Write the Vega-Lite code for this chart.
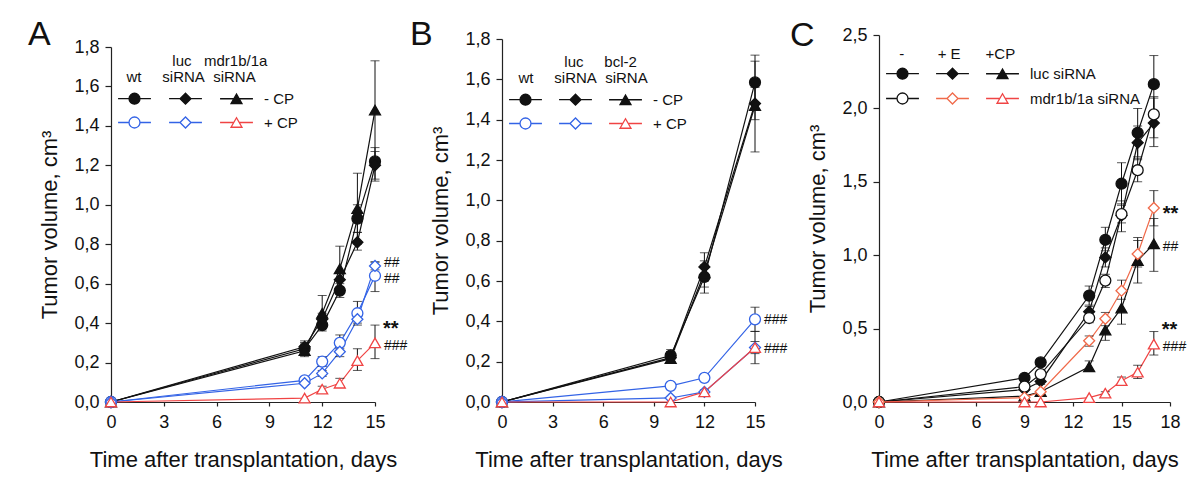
{
"$schema":"https://vega.github.io/schema/vega-lite/v6.json",
"background":"white",
"padding":{"left":28,"top":18,"right":5,"bottom":5},
"spacing":2,
"config":{
 "font":"Liberation Sans",
 "view":{"stroke":null},
 "locale":{"number":{"decimal":",","thousands":".","grouping":[3],"currency":["","\u00a0€"]}},
 "axis":{"grid":false,"domainColor":"#222","domainWidth":1.2,"tickColor":"#222","tickWidth":1.2,"labelColor":"#111","titleColor":"#111","labelFontSize":18,"titleFontSize":22,"titleFontWeight":"normal","labelFlush":false},
 "axisY":{"tickSize":6,"labelPadding":6,"titlePadding":12},
 "axisX":{"tickSize":4,"labelPadding":7,"titlePadding":18},
 "title":{"fontSize":34,"fontWeight":"normal","anchor":"start","frame":"group","baseline":"alphabetic","color":"#111","dy":11},
 "legend":{"orient":"top-left","offset":8,"columns":3,"symbolOffset":8,"symbolSize":120,"symbolStrokeWidth":1.3,"labelFontSize":15,"titleFontSize":15,"titleFontWeight":"normal","titleLineHeight":16,"titlePadding":6,"rowPadding":7,"columnPadding":3,"labelOffset":20,"padding":0,"labelColor":"#111","titleColor":"#111"}
},
"datasets":{
"A":[
{"series":"wt-","day":0,"volume":0},{"series":"wt-","day":11,"volume":0.27,"lo":0.24,"hi":0.30},{"series":"wt-","day":12,"volume":0.39,"lo":0.36,"hi":0.42},{"series":"wt-","day":13,"volume":0.565,"lo":0.53,"hi":0.60},{"series":"wt-","day":14,"volume":0.93,"lo":0.86,"hi":1.00},{"series":"wt-","day":15,"volume":1.22,"lo":1.13,"hi":1.29},
{"series":"luc-","day":0,"volume":0},{"series":"luc-","day":11,"volume":0.28,"lo":0.25,"hi":0.31},{"series":"luc-","day":12,"volume":0.42,"lo":0.39,"hi":0.45},{"series":"luc-","day":13,"volume":0.62,"lo":0.58,"hi":0.66},{"series":"luc-","day":14,"volume":0.81,"lo":0.77,"hi":0.86},{"series":"luc-","day":15,"volume":1.20,"lo":1.12,"hi":1.27},
{"series":"mdr-","day":0,"volume":0},{"series":"mdr-","day":11,"volume":0.26,"lo":0.23,"hi":0.30},{"series":"mdr-","day":12,"volume":0.45,"lo":0.38,"hi":0.54},{"series":"mdr-","day":13,"volume":0.675,"lo":0.56,"hi":0.79},{"series":"mdr-","day":14,"volume":0.98,"lo":0.80,"hi":1.16},{"series":"mdr-","day":15,"volume":1.48,"lo":1.23,"hi":1.73},
{"series":"wt+","day":0,"volume":0},{"series":"wt+","day":11,"volume":0.11,"lo":0.10,"hi":0.12},{"series":"wt+","day":12,"volume":0.205,"lo":0.18,"hi":0.23},{"series":"wt+","day":13,"volume":0.30,"lo":0.27,"hi":0.34},{"series":"wt+","day":14,"volume":0.45,"lo":0.40,"hi":0.51},{"series":"wt+","day":15,"volume":0.64,"lo":0.56,"hi":0.71,"hash":"##"},
{"series":"luc+","day":0,"volume":0},{"series":"luc+","day":11,"volume":0.095},{"series":"luc+","day":12,"volume":0.145,"lo":0.13,"hi":0.16},{"series":"luc+","day":13,"volume":0.255,"lo":0.23,"hi":0.28},{"series":"luc+","day":14,"volume":0.42,"lo":0.39,"hi":0.45},{"series":"luc+","day":15,"volume":0.69,"lo":0.67,"hi":0.71,"hashHi":"##"},
{"series":"mdr+","day":0,"volume":0},{"series":"mdr+","day":11,"volume":0.02},{"series":"mdr+","day":12,"volume":0.065,"lo":0.05,"hi":0.08},{"series":"mdr+","day":13,"volume":0.095,"lo":0.08,"hi":0.12},{"series":"mdr+","day":14,"volume":0.21,"lo":0.16,"hi":0.27},{"series":"mdr+","day":15,"volume":0.30,"lo":0.22,"hi":0.39,"hash":"###","starUp":"**"}
],
"B":[
{"series":"wt-","day":0,"volume":0},{"series":"wt-","day":10,"volume":0.23,"lo":0.21,"hi":0.26},{"series":"wt-","day":12,"volume":0.62,"lo":0.57,"hi":0.68},{"series":"wt-","day":15,"volume":1.585,"lo":1.45,"hi":1.72},
{"series":"luc-","day":0,"volume":0},{"series":"luc-","day":10,"volume":0.22,"lo":0.20,"hi":0.25},{"series":"luc-","day":12,"volume":0.67,"lo":0.60,"hi":0.74},{"series":"luc-","day":15,"volume":1.48,"lo":1.40,"hi":1.56},
{"series":"bcl-","day":0,"volume":0},{"series":"bcl-","day":10,"volume":0.215,"lo":0.20,"hi":0.24},{"series":"bcl-","day":12,"volume":0.64,"lo":0.54,"hi":0.70},{"series":"bcl-","day":15,"volume":1.47,"lo":1.24,"hi":1.69},
{"series":"wt+","day":0,"volume":0},{"series":"wt+","day":10,"volume":0.08,"lo":0.07,"hi":0.09},{"series":"wt+","day":12,"volume":0.12,"lo":0.11,"hi":0.13},{"series":"wt+","day":15,"volume":0.41,"lo":0.35,"hi":0.47,"hash":"###"},
{"series":"luc+","day":0,"volume":0},{"series":"luc+","day":10,"volume":0.02},{"series":"luc+","day":12,"volume":0.05},{"series":"luc+","day":15,"volume":0.27,"lo":0.24,"hi":0.30},
{"series":"bcl+","day":0,"volume":0},{"series":"bcl+","day":10,"volume":0.0},{"series":"bcl+","day":12,"volume":0.05,"lo":0.04,"hi":0.06},{"series":"bcl+","day":15,"volume":0.27,"lo":0.19,"hi":0.35,"hash":"###"}
],
"C":[
{"series":"luc0","day":0,"volume":0},{"series":"luc0","day":9,"volume":0.165,"lo":0.15,"hi":0.18},{"series":"luc0","day":10,"volume":0.27,"lo":0.25,"hi":0.29},{"series":"luc0","day":13,"volume":0.725,"lo":0.66,"hi":0.79},{"series":"luc0","day":14,"volume":1.105,"lo":1.03,"hi":1.19},{"series":"luc0","day":15,"volume":1.487,"lo":1.35,"hi":1.63},{"series":"luc0","day":16,"volume":1.834,"lo":1.67,"hi":2.00},{"series":"luc0","day":17,"volume":2.165,"lo":1.97,"hi":2.36},
{"series":"lucE","day":0,"volume":0},{"series":"lucE","day":9,"volume":0.085},{"series":"lucE","day":10,"volume":0.14,"lo":0.12,"hi":0.16},{"series":"lucE","day":13,"volume":0.615,"lo":0.58,"hi":0.65},{"series":"lucE","day":14,"volume":0.985,"lo":0.92,"hi":1.05},{"series":"lucE","day":15,"volume":1.27,"lo":1.16,"hi":1.37},{"series":"lucE","day":16,"volume":1.766,"lo":1.65,"hi":1.88},{"series":"lucE","day":17,"volume":1.90,"lo":1.74,"hi":2.07},
{"series":"lucCP","day":0,"volume":0},{"series":"lucCP","day":9,"volume":0.04},{"series":"lucCP","day":10,"volume":0.07},{"series":"lucCP","day":13,"volume":0.24,"lo":0.21,"hi":0.28},{"series":"lucCP","day":14,"volume":0.49,"lo":0.42,"hi":0.56},{"series":"lucCP","day":15,"volume":0.64,"lo":0.53,"hi":0.75},{"series":"lucCP","day":16,"volume":0.963,"lo":0.81,"hi":1.12},{"series":"lucCP","day":17,"volume":1.077,"lo":0.89,"hi":1.25,"hash":"##"},
{"series":"mdr0","day":0,"volume":0},{"series":"mdr0","day":9,"volume":0.105},{"series":"mdr0","day":10,"volume":0.19,"lo":0.17,"hi":0.21},{"series":"mdr0","day":13,"volume":0.572,"lo":0.54,"hi":0.61},{"series":"mdr0","day":14,"volume":0.827,"lo":0.78,"hi":0.87},{"series":"mdr0","day":15,"volume":1.28,"lo":1.22,"hi":1.34},{"series":"mdr0","day":16,"volume":1.579,"lo":1.50,"hi":1.66},{"series":"mdr0","day":17,"volume":1.959,"lo":1.80,"hi":2.08},
{"series":"mdrE","day":0,"volume":0},{"series":"mdrE","day":9,"volume":0.03},{"series":"mdrE","day":10,"volume":0.07},{"series":"mdrE","day":13,"volume":0.417,"lo":0.38,"hi":0.45},{"series":"mdrE","day":14,"volume":0.567,"lo":0.52,"hi":0.61},{"series":"mdrE","day":15,"volume":0.758,"lo":0.70,"hi":0.83},{"series":"mdrE","day":16,"volume":1.008,"lo":0.92,"hi":1.10},{"series":"mdrE","day":17,"volume":1.322,"lo":1.20,"hi":1.44,"star":"**"},
{"series":"mdrCP","day":0,"volume":0},{"series":"mdrCP","day":9,"volume":0},{"series":"mdrCP","day":10,"volume":0},{"series":"mdrCP","day":13,"volume":0.03},{"series":"mdrCP","day":14,"volume":0.06,"lo":0.05,"hi":0.07},{"series":"mdrCP","day":15,"volume":0.145,"lo":0.12,"hi":0.17},{"series":"mdrCP","day":16,"volume":0.203,"lo":0.16,"hi":0.25},{"series":"mdrCP","day":17,"volume":0.394,"lo":0.32,"hi":0.48,"hash":"###","starUp":"**"}
]
},
"hconcat":[
{
 "width":264,"height":367,
 "title":{"text":"A","dx":-83,"offset":-6},
 "data":{"name":"A"},
 "encoding":{
  "x":{"field":"day","type":"quantitative","scale":{"domain":[0,15],"nice":false},"axis":{"values":[0,3,6,9,12,15],"title":"Time after transplantation, days"}},
  "y":{"field":"volume","type":"quantitative","scale":{"domain":[0,1.8],"nice":false,"range":[367,12]},"axis":{"values":[0,0.2,0.4,0.6,0.8,1,1.2,1.4,1.6,1.8],"format":".1f","title":"Tumor volume, cm³"}}
 },
 "layer":[
  {"mark":{"type":"line","strokeWidth":1.2},"encoding":{"stroke":{"field":"series","type":"nominal","scale":{"domain":["wt-","luc-","mdr-","wt+","luc+","mdr+"],"range":["#111","#111","#111","#3363e6","#3363e6","#f04444"]},"legend":null}}},
  {"mark":{"type":"errorbar","ticks":{"size":9},"color":"#111","thickness":1},"encoding":{"y":{"field":"lo","type":"quantitative","axis":{"values":[0,0.2,0.4,0.6,0.8,1,1.2,1.4,1.6,1.8],"format":".1f","title":"Tumor volume, cm³"}},"y2":{"field":"hi"}}},
  {"mark":{"type":"point","filled":true,"size":120,"strokeWidth":1.3,"opacity":1},"encoding":{
    "shape":{"field":"series","type":"nominal","scale":{"domain":["wt-","luc-","mdr-","wt+","luc+","mdr+"],"range":["circle","diamond","triangle-up","circle","diamond","triangle-up"]},"legend":null},
    "fill":{"field":"series","type":"nominal","scale":{"domain":["wt-","luc-","mdr-","wt+","luc+","mdr+"],"range":["#111","#111","#111","white","white","white"]},"legend":null},
    "stroke":{"field":"series","type":"nominal","scale":{"domain":["wt-","luc-","mdr-","wt+","luc+","mdr+"],"range":["#111","#111","#111","#3363e6","#3363e6","#f04444"]},"legend":null}}},
  {"transform":[{"filter":"false"}],"mark":{"type":"point","filled":true,"size":120,"strokeWidth":1.3,"opacity":1},"encoding":{
    "shape":{"field":"series","type":"nominal","scale":{"domain":["wt-","wt+","luc-","luc+","mdr-","mdr+"],"range":["M-3,0H-1M1,0H3M1,0A1,1,0,1,1,-1,0A1,1,0,1,1,1,0Z","M-3,0H-1M1,0H3M1,0A1,1,0,1,1,-1,0A1,1,0,1,1,1,0Z","M-3,0H-1M1,0H3M-1,0L0,-1L1,0L0,1Z","M-3,0H-1M1,0H3M-1,0L0,-1L1,0L0,1Z","M-3,0H-0.5M0.5,0H3M0,-0.866L-1,0.866L1,0.866Z","M-3,0H-0.5M0.5,0H3M0,-0.866L-1,0.866L1,0.866Z"]},
      "legend":{"title":["\u200b","\u200b\u00a0\u00a0\u00a0\u00a0\u00a0\u00a0\u00a0\u00a0\u00a0\u00a0\u00a0\u00a0\u00a0\u00a0luc\u00a0\u00a0\u00a0mdr1b/1a","\u200b\u00a0\u00a0\u00a0wt\u00a0\u00a0\u00a0\u00a0\u00a0siRNA\u00a0\u00a0siRNA"],"labelExpr":"datum.label == 'mdr-' ? '- CP' : datum.label == 'mdr+' ? '+ CP' : ''","offset":3,"symbolOffset":13}},
    "fill":{"field":"series","type":"nominal","scale":{"domain":["wt-","wt+","luc-","luc+","mdr-","mdr+"],"range":["#111","white","#111","white","#111","white"]}},
    "stroke":{"field":"series","type":"nominal","scale":{"domain":["wt-","wt+","luc-","luc+","mdr-","mdr+"],"range":["#111","#3363e6","#111","#3363e6","#111","#f04444"]}}}},
  {"transform":[{"filter":"isValid(datum.hash)"}],"mark":{"type":"text","align":"left","baseline":"middle","dx":9,"dy":3,"fontSize":14,"color":"#111"},"encoding":{"text":{"field":"hash","type":"nominal"}}},
  {"transform":[{"filter":"isValid(datum.hashHi)"}],"mark":{"type":"text","align":"left","baseline":"middle","dx":9,"dy":-3,"fontSize":14,"color":"#111"},"encoding":{"text":{"field":"hashHi","type":"nominal"}}},
  {"transform":[{"filter":"isValid(datum.starUp)"}],"mark":{"type":"text","align":"left","baseline":"middle","dx":8,"dy":-14,"fontSize":20,"fontWeight":"bold","color":"#111"},"encoding":{"text":{"field":"starUp","type":"nominal"}}}
 ],
 "resolve":{"scale":{"stroke":"independent","fill":"independent","shape":"independent"}}
},
{
 "width":253,"height":367,
 "title":{"text":"B","dx":-92,"offset":-11},
 "data":{"name":"B"},
 "encoding":{
  "x":{"field":"day","type":"quantitative","scale":{"domain":[0,15],"nice":false},"axis":{"values":[0,3,6,9,12,15],"title":"Time after transplantation, days"}},
  "y":{"field":"volume","type":"quantitative","scale":{"domain":[0,1.8],"nice":false,"range":[367,4]},"axis":{"values":[0,0.2,0.4,0.6,0.8,1,1.2,1.4,1.6,1.8],"format":".1f","title":"Tumor volume, cm³"}}
 },
 "layer":[
  {"mark":{"type":"line","strokeWidth":1.2},"encoding":{"stroke":{"field":"series","type":"nominal","scale":{"domain":["wt-","luc-","bcl-","wt+","luc+","bcl+"],"range":["#111","#111","#111","#3363e6","#3363e6","#f04444"]},"legend":null}}},
  {"mark":{"type":"errorbar","ticks":{"size":9},"color":"#111","thickness":1},"encoding":{"y":{"field":"lo","type":"quantitative","axis":{"values":[0,0.2,0.4,0.6,0.8,1,1.2,1.4,1.6,1.8],"format":".1f","title":"Tumor volume, cm³"}},"y2":{"field":"hi"}}},
  {"mark":{"type":"point","filled":true,"size":120,"strokeWidth":1.3,"opacity":1},"encoding":{
    "shape":{"field":"series","type":"nominal","scale":{"domain":["wt-","luc-","bcl-","wt+","luc+","bcl+"],"range":["circle","diamond","triangle-up","circle","diamond","triangle-up"]},"legend":null},
    "fill":{"field":"series","type":"nominal","scale":{"domain":["wt-","luc-","bcl-","wt+","luc+","bcl+"],"range":["#111","#111","#111","white","white","white"]},"legend":null},
    "stroke":{"field":"series","type":"nominal","scale":{"domain":["wt-","luc-","bcl-","wt+","luc+","bcl+"],"range":["#111","#111","#111","#3363e6","#3363e6","#f04444"]},"legend":null}}},
  {"transform":[{"filter":"false"}],"mark":{"type":"point","filled":true,"size":120,"strokeWidth":1.3,"opacity":1},"encoding":{
    "shape":{"field":"series","type":"nominal","scale":{"domain":["wt-","wt+","luc-","luc+","bcl-","bcl+"],"range":["M-3,0H-1M1,0H3M1,0A1,1,0,1,1,-1,0A1,1,0,1,1,1,0Z","M-3,0H-1M1,0H3M1,0A1,1,0,1,1,-1,0A1,1,0,1,1,1,0Z","M-3,0H-1M1,0H3M-1,0L0,-1L1,0L0,1Z","M-3,0H-1M1,0H3M-1,0L0,-1L1,0L0,1Z","M-3,0H-0.5M0.5,0H3M0,-0.866L-1,0.866L1,0.866Z","M-3,0H-0.5M0.5,0H3M0,-0.866L-1,0.866L1,0.866Z"]},
      "legend":{"title":["\u200b","\u200b\u00a0\u00a0\u00a0\u00a0\u00a0\u00a0\u00a0\u00a0\u00a0\u00a0\u00a0\u00a0\u00a0\u00a0luc\u00a0\u00a0\u00a0\u00a0\u00a0bcl-2","\u200b\u00a0\u00a0\u00a0wt\u00a0\u00a0\u00a0\u00a0\u00a0siRNA\u00a0\u00a0siRNA"],"labelExpr":"datum.label == 'bcl-' ? '- CP' : datum.label == 'bcl+' ? '+ CP' : ''","offset":4,"symbolOffset":12}},
    "fill":{"field":"series","type":"nominal","scale":{"domain":["wt-","wt+","luc-","luc+","bcl-","bcl+"],"range":["#111","white","#111","white","#111","white"]}},
    "stroke":{"field":"series","type":"nominal","scale":{"domain":["wt-","wt+","luc-","luc+","bcl-","bcl+"],"range":["#111","#3363e6","#111","#3363e6","#111","#f04444"]}}}},
  {"transform":[{"filter":"isValid(datum.hash)"}],"mark":{"type":"text","align":"left","baseline":"middle","dx":9,"dy":1,"fontSize":14,"color":"#111"},"encoding":{"text":{"field":"hash","type":"nominal"}}}
 ],
 "resolve":{"scale":{"stroke":"independent","fill":"independent","shape":"independent"}}
},
{
 "width":291,"height":367,
 "title":{"text":"C","dx":-89,"offset":-16},
 "data":{"name":"C"},
 "encoding":{
  "x":{"field":"day","type":"quantitative","scale":{"domain":[0,18],"nice":false},"axis":{"values":[0,3,6,9,12,15,18],"title":"Time after transplantation, days"}},
  "y":{"field":"volume","type":"quantitative","scale":{"domain":[0,2.5],"nice":false},"axis":{"values":[0,0.5,1,1.5,2,2.5],"format":".1f","title":"Tumor volume, cm³"}}
 },
 "layer":[
  {"mark":{"type":"line","strokeWidth":1.2},"encoding":{"stroke":{"field":"series","type":"nominal","scale":{"domain":["luc0","lucE","lucCP","mdr0","mdrE","mdrCP"],"range":["#111","#111","#111","#111","#f06a4a","#f04444"]},"legend":null}}},
  {"mark":{"type":"errorbar","ticks":{"size":9},"color":"#111","thickness":1},"encoding":{"y":{"field":"lo","type":"quantitative","axis":{"values":[0,0.5,1,1.5,2,2.5],"format":".1f","title":"Tumor volume, cm³"}},"y2":{"field":"hi"}}},
  {"mark":{"type":"point","filled":true,"size":120,"strokeWidth":1.3,"opacity":1},"encoding":{
    "shape":{"field":"series","type":"nominal","scale":{"domain":["luc0","lucE","lucCP","mdr0","mdrE","mdrCP"],"range":["circle","diamond","triangle-up","circle","diamond","triangle-up"]},"legend":null},
    "fill":{"field":"series","type":"nominal","scale":{"domain":["luc0","lucE","lucCP","mdr0","mdrE","mdrCP"],"range":["#111","#111","#111","white","white","white"]},"legend":null},
    "stroke":{"field":"series","type":"nominal","scale":{"domain":["luc0","lucE","lucCP","mdr0","mdrE","mdrCP"],"range":["#111","#111","#111","#111","#f06a4a","#f04444"]},"legend":null}}},
  {"transform":[{"filter":"false"}],"mark":{"type":"point","filled":true,"size":120,"strokeWidth":1.3,"opacity":1},"encoding":{
    "shape":{"field":"series","type":"nominal","scale":{"domain":["luc0","mdr0","lucE","mdrE","lucCP","mdrCP"],"range":["M-3,0H-1M1,0H3M1,0A1,1,0,1,1,-1,0A1,1,0,1,1,1,0Z","M-3,0H-1M1,0H3M1,0A1,1,0,1,1,-1,0A1,1,0,1,1,1,0Z","M-3,0H-1M1,0H3M-1,0L0,-1L1,0L0,1Z","M-3,0H-1M1,0H3M-1,0L0,-1L1,0L0,1Z","M-3,0H-0.5M0.5,0H3M0,-0.866L-1,0.866L1,0.866Z","M-3,0H-0.5M0.5,0H3M0,-0.866L-1,0.866L1,0.866Z"]},
      "legend":{"title":"\u200b\u00a0\u00a0-\u00a0\u00a0\u00a0\u00a0\u00a0\u00a0\u00a0\u00a0+\u00a0E\u00a0\u00a0\u00a0\u00a0\u00a0\u00a0+CP","labelExpr":"datum.label == 'lucCP' ? 'luc siRNA' : datum.label == 'mdrCP' ? 'mdr1b/1a siRNA' : ''","titlePadding":4,"rowPadding":8,"offset":12,"symbolOffset":4}},
    "fill":{"field":"series","type":"nominal","scale":{"domain":["luc0","mdr0","lucE","mdrE","lucCP","mdrCP"],"range":["#111","white","#111","white","#111","white"]}},
    "stroke":{"field":"series","type":"nominal","scale":{"domain":["luc0","mdr0","lucE","mdrE","lucCP","mdrCP"],"range":["#111","#111","#111","#f06a4a","#111","#f04444"]}}}},
  {"transform":[{"filter":"isValid(datum.hash)"}],"mark":{"type":"text","align":"left","baseline":"middle","dx":9,"dy":3,"fontSize":14,"color":"#111"},"encoding":{"text":{"field":"hash","type":"nominal"}}},
  {"transform":[{"filter":"isValid(datum.starUp)"}],"mark":{"type":"text","align":"left","baseline":"middle","dx":8,"dy":-14,"fontSize":20,"fontWeight":"bold","color":"#111"},"encoding":{"text":{"field":"starUp","type":"nominal"}}},
  {"transform":[{"filter":"isValid(datum.star)"}],"mark":{"type":"text","align":"left","baseline":"middle","dx":9,"dy":6,"fontSize":20,"fontWeight":"bold","color":"#111"},"encoding":{"text":{"field":"star","type":"nominal"}}}
 ],
 "resolve":{"scale":{"stroke":"independent","fill":"independent","shape":"independent"}}
}
]
}
